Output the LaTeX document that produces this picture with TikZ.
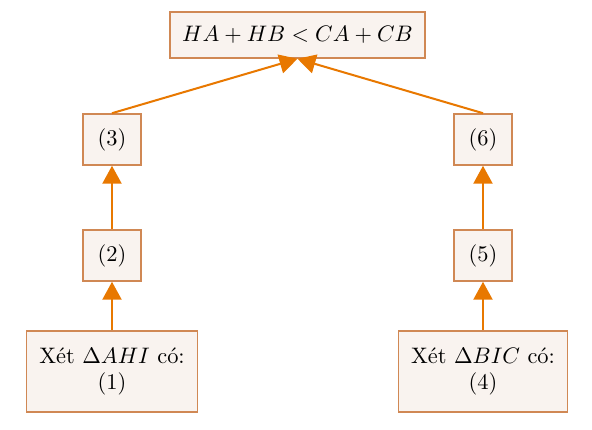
\documentclass[tikz,border=0pt]{standalone}
\usetikzlibrary{arrows.meta}
\definecolor{boxdraw}{RGB}{208,136,84}
\definecolor{boxfill}{RGB}{249,243,239}
\definecolor{arr}{RGB}{232,120,0}
\begin{document}
\begin{tikzpicture}[x=0.446pt,y=-0.446pt,
  box/.style={draw=boxdraw,fill=boxfill,line width=0.7pt,inner sep=0pt,align=center},
  link/.style={draw=arr,line width=0.9pt,-{Triangle[width=8.5pt,length=8pt]}}]
\useasboundingbox (0,0) rectangle (592,430);
\node[box,minimum width=255*0.446pt,minimum height=46*0.446pt] (top) at (297.5,35) {$HA+HB<CA+CB$};
\node[box,minimum width=58*0.446pt,minimum height=51*0.446pt] (n3) at (112,139.5) {(3)};
\node[box,minimum width=58*0.446pt,minimum height=51*0.446pt] (n2) at (112,255.5) {(2)};
\node[box,minimum width=171*0.446pt,minimum height=81*0.446pt] (n1) at (112,371.5) {Xét $\Delta AHI$ có:\\(1)};
\node[box,minimum width=58*0.446pt,minimum height=51*0.446pt] (n6) at (483,139.5) {(6)};
\node[box,minimum width=58*0.446pt,minimum height=51*0.446pt] (n5) at (483,255.5) {(5)};
\node[box,minimum width=169*0.446pt,minimum height=81*0.446pt] (n4) at (483,371.5) {Xét $\Delta BIC$ có:\\(4)};
\draw[link] (n1) -- (n2);
\draw[link] (n2) -- (n3);
\draw[link] (n3.north) -- (top.south);
\draw[link] (n4) -- (n5);
\draw[link] (n5) -- (n6);
\draw[link] (n6.north) -- (top.south);
\end{tikzpicture}
\end{document}
